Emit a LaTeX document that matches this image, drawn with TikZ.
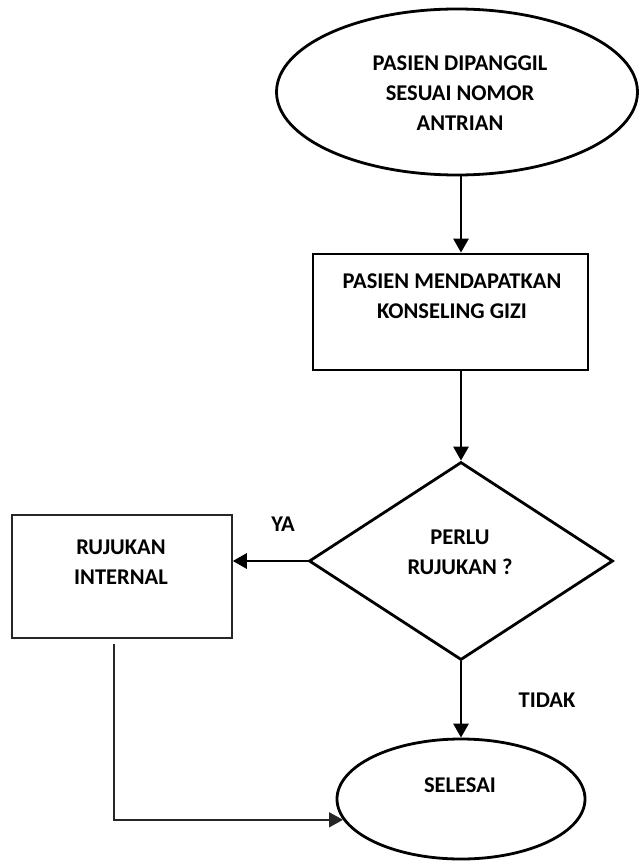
\documentclass[tikz,border=0pt]{standalone}
\usepackage{fontspec}
\setmainfont{Carlito}
\usetikzlibrary{shapes.geometric,arrows.meta}
\begin{document}
\begin{tikzpicture}[x=1pt,y=-1pt,
  thick line/.style={line width=2.8pt},
  thin line/.style={line width=1.5pt, draw=black!85},
  arr/.style={-{Triangle[length=14pt,width=15pt]}},
  txt/.style={font=\fontsize{22.5}{30}\selectfont\bfseries, align=center, inner sep=0pt},
  shp/.style={draw, inner sep=0pt}]
\useasboundingbox (0,0) rectangle (639,861);
% shapes
\node[shp, thick line, ellipse, minimum width=361pt, minimum height=166pt] (e1) at (457,92) {};
\node[shp, thick line, rectangle, minimum width=275pt, minimum height=116pt] (box) at (450.5,312) {};
\node[shp, thick line, diamond, minimum width=304pt, minimum height=198pt] (dec) at (461,561) {};
\node[shp, thin line, rectangle, minimum width=220pt, minimum height=123pt] (rint) at (122,576.5) {};
\node[shp, thick line, ellipse, minimum width=248pt, minimum height=120pt] (sel) at (461,799) {};
% texts
\node[txt] (t1) at (460,93) {PASIEN DIPANGGIL\\SESUAI NOMOR\\ANTRIAN};
\node[txt] (t2) at (452,296) {PASIEN MENDAPATKAN\\KONSELING GIZI};
\node[txt] (t3) at (460,552) {PERLU\\RUJUKAN ?};
\node[txt] (t4) at (121,562.5) {RUJUKAN\\INTERNAL};
\node[txt] (t5) at (460,785) {SELESAI};
\node[txt] (ya) at (283,524) {YA};
\node[txt] (tidak) at (547,700) {TIDAK};
% connectors
\draw[thick line, arr] (e1.south -| dec.north) -- (box.north -| dec.north);
\draw[thick line, arr] (box.south -| dec.north) -- (dec.north);
\draw[thick line, arr] (dec.west) -- (dec.west -| rint.east);
\draw[thick line, arr] (dec.south) -- (sel.north);
\coordinate (rs) at ([xshift=-8pt,yshift=-5pt]rint.south);
\draw[thin line, arr] (rs) |- (sel.190);
\end{tikzpicture}
\end{document}
